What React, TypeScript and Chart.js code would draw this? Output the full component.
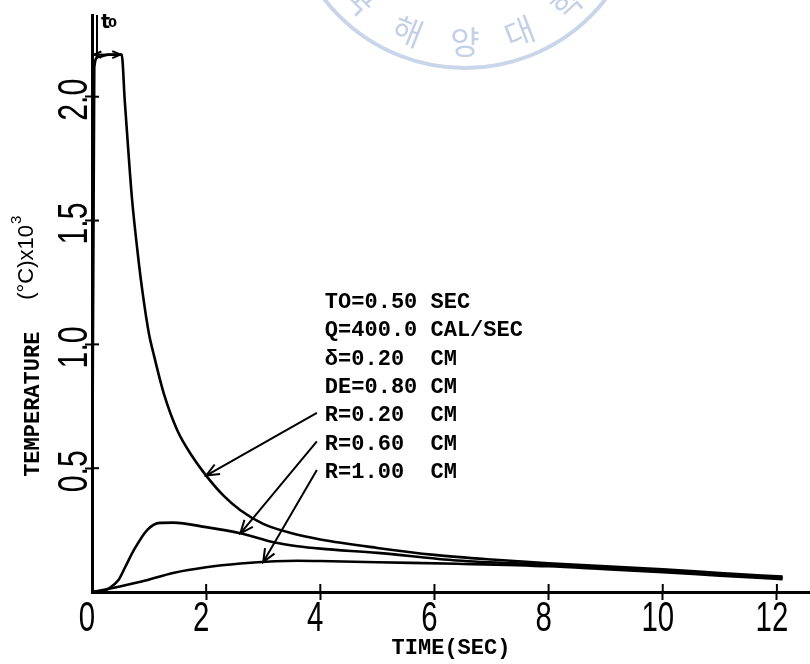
import React, { useEffect, useRef } from "react";
import { Chart, registerables } from "chart.js";

Chart.register(...registerables);

// ---- axis ticks ----
const X_TICKS = [0, 2, 4, 6, 8, 10, 12];
const X_TICK_LABELS = ["0", "2", "4", "6", "8", "10", "12"];
const Y_TICKS = [0.5, 1.0, 1.5, 2.0];
const Y_TICK_LABELS = ["0.5", "1.0", "1.5", "2.0"];
const X_MAX = 12.58;
const Y_MAX = 2.33;

// ---- series: temperature (x10^3 °C) vs time (sec) ----
const TIME_R020 = [0, 0.04, 0.1, 0.3, 0.52, 0.575, 0.64, 0.7, 0.8, 0.88, 1.0, 1.07, 1.26, 1.5, 1.75, 2.0, 2.3, 2.6, 3.0, 3.5, 4.0, 5.0, 6.0, 7.0, 8.0, 9.0, 10.0, 11.0, 12.1];
const TEMP_R020 = [0, 2.12, 2.16, 2.17, 2.17, 1.98, 1.77, 1.59, 1.37, 1.22, 1.04, 0.97, 0.8, 0.65, 0.55, 0.47, 0.39, 0.33, 0.275, 0.237, 0.212, 0.178, 0.15, 0.131, 0.116, 0.104, 0.092, 0.077, 0.062];

const TIME_R060 = [0, 0.15, 0.3, 0.46, 0.58, 0.735, 0.97, 1.19, 1.42, 2.0, 2.6, 3.2, 3.6, 4.0, 5.0, 6.4, 8.0, 9.0, 10.0, 11.0, 12.1];
const TEMP_R060 = [0, 0.003, 0.015, 0.047, 0.1, 0.17, 0.251, 0.279, 0.28, 0.262, 0.237, 0.2, 0.185, 0.175, 0.158, 0.127, 0.11, 0.098, 0.086, 0.072, 0.057];

const TIME_R100 = [0, 0.3, 0.87, 1.44, 2.0, 2.6, 3.2, 3.6, 4.0, 5.0, 6.4, 8.0, 9.0, 10.0, 11.0, 12.1];
const TEMP_R100 = [0, 0.013, 0.042, 0.078, 0.1, 0.115, 0.124, 0.126, 0.125, 0.12, 0.114, 0.104, 0.092, 0.08, 0.066, 0.052];

const SERIES_LABELS = ["R=0.20 CM", "R=0.60 CM", "R=1.00 CM"];

// ---- annotation texts ----
const PARAM_LINES = [
  "TO=0.50 SEC",
  "Q=400.0 CAL/SEC",
  "\u03b4=0.20  CM",
  "DE=0.80 CM",
  "R=0.20  CM",
  "R=0.60  CM",
  "R=1.00  CM",
];
const ARROW_TIMES = [2.0, 2.6, 3.0]; // where each R-label arrow touches its curve
const T0 = 0.5;
const PEAK = 2.17;
const X_TITLE = "TIME(SEC)";
const Y_TITLE = "TEMPERATURE";
const Y_UNIT = "(\u00b0C)x10";
const Y_EXP = "3";
const WATERMARK_CHARS = ["국", "해", "양", "대", "학"];

const SANS = '"Liberation Sans", Arial, sans-serif';
const MONO = '"Liberation Mono", "DejaVu Sans Mono", monospace';

function interp(ts: number[], vs: number[], t: number): number {
  for (let i = 0; i < ts.length - 1; i++) {
    if (t >= ts[i] && t <= ts[i + 1]) {
      const f = (t - ts[i]) / (ts[i + 1] - ts[i]);
      return vs[i] + f * (vs[i + 1] - vs[i]);
    }
  }
  return vs[vs.length - 1];
}

function arrowHead(ctx: CanvasRenderingContext2D, fx: number, fy: number, tx: number, ty: number, len: number) {
  const a = Math.atan2(ty - fy, tx - fx);
  const s = 0.4;
  ctx.beginPath();
  ctx.moveTo(tx - len * Math.cos(a - s), ty - len * Math.sin(a - s));
  ctx.lineTo(tx, ty);
  ctx.lineTo(tx - len * Math.cos(a + s), ty - len * Math.sin(a + s));
  ctx.stroke();
}

const overlayPlugin = {
  id: "overlay",
  beforeDraw(chart: any) {
    const { ctx, width } = chart;
    // faint university seal watermark at top
    ctx.save();
    const cx = width * 0.574;
    const cy = -110;
    ctx.strokeStyle = "#c9d5e8";
    ctx.lineWidth = 4;
    ctx.beginPath();
    ctx.arc(cx, cy, 178, 0, Math.PI);
    ctx.stroke();
    ctx.fillStyle = "#c3d0e6";
    ctx.font = '32px "Noto Sans CJK KR", sans-serif';
    ctx.textAlign = "center";
    ctx.textBaseline = "middle";
    const angles = [-44, -22, 0, 21, 42];
    WATERMARK_CHARS.forEach((ch, i) => {
      const th = (angles[i] * Math.PI) / 180;
      const r = 152;
      ctx.save();
      ctx.translate(cx + r * Math.sin(th), cy + r * Math.cos(th));
      ctx.rotate(-th);
      ctx.fillText(ch, 0, 0);
      ctx.restore();
    });
    ctx.restore();
  },
  afterDraw(chart: any) {
    const { ctx, chartArea } = chart;
    const xs = chart.scales.x;
    const ys = chart.scales.y;
    const L = chartArea.left;
    const B = chartArea.bottom;
    ctx.save();
    ctx.strokeStyle = "#000";
    ctx.fillStyle = "#000";

    // inner halves of the tick crosses
    ctx.lineWidth = 2;
    X_TICKS.forEach((v) => {
      if (v === 0) return;
      const px = xs.getPixelForValue(v);
      ctx.beginPath();
      ctx.moveTo(px, B);
      ctx.lineTo(px, B - 8);
      ctx.stroke();
    });
    Y_TICKS.forEach((v) => {
      const py = ys.getPixelForValue(v);
      ctx.beginPath();
      ctx.moveTo(L, py);
      ctx.lineTo(L + 7, py);
      ctx.stroke();
    });

    // x tick labels (tall, condensed plotter digits)
    ctx.font = `42px ${SANS}`;
    ctx.textAlign = "center";
    ctx.textBaseline = "middle";
    X_TICKS.forEach((v, i) => {
      ctx.save();
      ctx.translate(xs.getPixelForValue(v) - 5, B + 27);
      ctx.scale(0.7, 1);
      ctx.fillText(X_TICK_LABELS[i], 0, 0);
      ctx.restore();
    });

    // y tick labels (rotated, condensed)
    Y_TICKS.forEach((v, i) => {
      ctx.save();
      ctx.translate(L - 17, ys.getPixelForValue(v) + 3);
      ctx.rotate(-Math.PI / 2);
      ctx.scale(0.72, 1);
      ctx.fillText(Y_TICK_LABELS[i], 0, 0);
      ctx.restore();
    });

    // y axis title
    ctx.save();
    ctx.translate(L - 59, ys.getPixelForValue(0.465));
    ctx.rotate(-Math.PI / 2);
    ctx.textAlign = "left";
    ctx.font = `bold 22px ${MONO}`;
    ctx.fillText(Y_TITLE, 0, 0);
    ctx.restore();
    ctx.save();
    ctx.translate(L - 65, ys.getPixelForValue(1.18));
    ctx.rotate(-Math.PI / 2);
    ctx.textAlign = "left";
    ctx.font = `22px ${SANS}`;
    ctx.fillText(Y_UNIT, 0, 0);
    const w = ctx.measureText(Y_UNIT).width;
    ctx.font = `15px ${SANS}`;
    ctx.fillText(Y_EXP, w + 1, -10);
    ctx.restore();

    // parameter text block
    const tx = xs.getPixelForValue(4.08);
    const ty0 = ys.getPixelForValue(1.171);
    const step = ys.getPixelForValue(0) - ys.getPixelForValue(0.115);
    ctx.font = `bold 22px ${MONO}`;
    ctx.textAlign = "left";
    ctx.textBaseline = "middle";
    PARAM_LINES.forEach((line, i) => ctx.fillText(line, tx, ty0 + i * step));

    // arrows from R labels to curves
    const series = [
      [TIME_R020, TEMP_R020],
      [TIME_R060, TEMP_R060],
      [TIME_R100, TEMP_R100],
    ];
    ctx.lineWidth = 2;
    ARROW_TIMES.forEach((t, k) => {
      const sx = tx - 8;
      const sy = ty0 + (4 + k) * step - 3;
      const ex = xs.getPixelForValue(t);
      const ey = ys.getPixelForValue(interp(series[k][0], series[k][1], t));
      ctx.beginPath();
      ctx.moveTo(sx, sy);
      ctx.lineTo(ex, ey);
      ctx.stroke();
      arrowHead(ctx, sx, sy, ex, ey, 14);
    });

    // t0 dimension marker
    const py = ys.getPixelForValue(PEAK);
    const p0 = L + 2;
    const p1 = xs.getPixelForValue(T0);
    ctx.lineWidth = 2;
    ctx.beginPath();
    ctx.moveTo(p0, py);
    ctx.lineTo(p1, py);
    ctx.stroke();
    arrowHead(ctx, p1, py, p0, py, 8);
    arrowHead(ctx, p0, py, p1, py, 9);
    ctx.beginPath();
    ctx.moveTo(L + 5, py);
    ctx.lineTo(L + 5, chartArea.top);
    ctx.stroke();
    ctx.textAlign = "left";
    ctx.textBaseline = "alphabetic";
    ctx.font = 'bold 19px "DejaVu Sans", sans-serif';
    ctx.fillText("t", L + 9, chartArea.top + 13);
    ctx.font = 'bold 13px "DejaVu Sans", sans-serif';
    ctx.fillText("0", L + 16, chartArea.top + 12);

    ctx.restore();
  },
};

export default function App() {
  const canvasRef = useRef<HTMLCanvasElement | null>(null);

  useEffect(() => {
    if (!canvasRef.current) return;
    const mk = (ts: number[], vs: number[]) => ts.map((t, i) => ({ x: t, y: vs[i] }));
    const lineStyle = {
      borderColor: "#000",
      borderWidth: 2.6,
      pointRadius: 0,
      fill: false,
      cubicInterpolationMode: "monotone" as const,
    };
    const chart = new Chart(canvasRef.current, {
      type: "line",
      data: {
        datasets: [
          { label: SERIES_LABELS[0], data: mk(TIME_R020, TEMP_R020), ...lineStyle },
          { label: SERIES_LABELS[1], data: mk(TIME_R060, TEMP_R060), ...lineStyle },
          { label: SERIES_LABELS[2], data: mk(TIME_R100, TEMP_R100), ...lineStyle },
        ],
      },
      options: {
        responsive: false,
        animation: false,
        devicePixelRatio: 1,
        layout: { padding: { top: 15, right: 0, bottom: 0, left: 0 } },
        plugins: { legend: { display: false }, tooltip: { enabled: false } },
        scales: {
          x: {
            type: "linear",
            min: 0,
            max: X_MAX,
            afterBuildTicks: (scale: any) => {
              scale.ticks = X_TICKS.map((v) => ({ value: v }));
            },
            afterFit: (scale: any) => {
              scale.height = 72;
            },
            ticks: { display: false },
            grid: {
              drawOnChartArea: false,
              drawTicks: true,
              tickLength: 8,
              tickWidth: 2,
              tickColor: (c: any) => (c.tick && c.tick.value === 0 ? "rgba(0,0,0,0)" : "#000"),
            },
            border: { display: true, color: "#000", width: 3 },
            title: {
              display: true,
              text: X_TITLE,
              color: "#000",
              font: { family: MONO, size: 22, weight: "bold" },
              padding: { top: 0, bottom: 2 },
            },
          },
          y: {
            type: "linear",
            min: 0,
            max: Y_MAX,
            afterBuildTicks: (scale: any) => {
              scale.ticks = [0, ...Y_TICKS].map((v) => ({ value: v }));
            },
            afterFit: (scale: any) => {
              scale.width = 92;
            },
            ticks: { display: false },
            grid: {
              drawOnChartArea: false,
              drawTicks: true,
              tickLength: 7,
              tickWidth: 2,
              tickColor: (c: any) => (c.tick && c.tick.value === 0 ? "rgba(0,0,0,0)" : "#000"),
            },
            border: { display: true, color: "#000", width: 3 },
          },
        },
      },
      plugins: [overlayPlugin],
    });
    return () => chart.destroy();
  }, []);

  return (
    <div style={{ position: "fixed", left: 0, top: 0, width: 810, height: 664, background: "#fff" }}>
      <canvas ref={canvasRef} width={810} height={664} style={{ display: "block" }} />
    </div>
  );
}
